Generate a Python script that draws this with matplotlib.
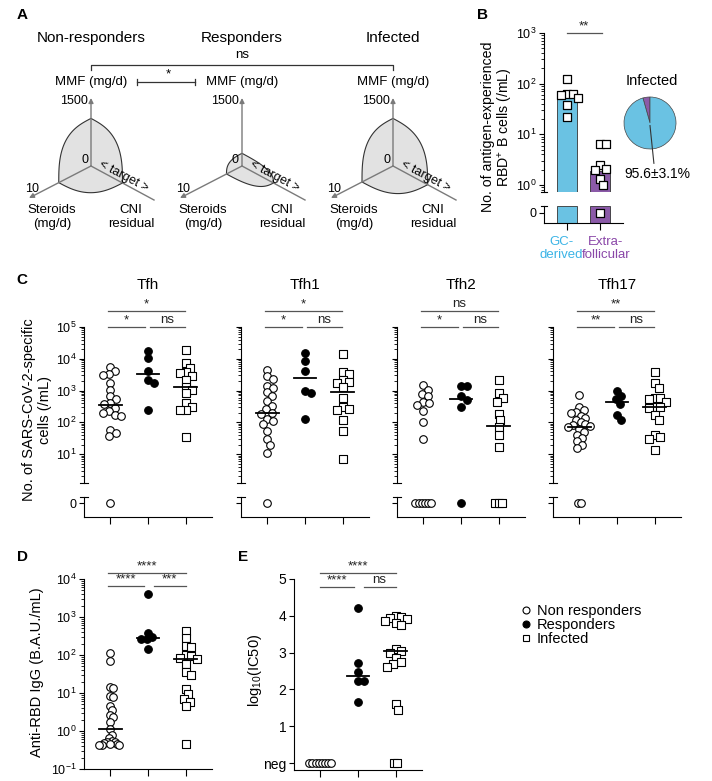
import numpy as np
import matplotlib
matplotlib.use('Agg')
import matplotlib.pyplot as plt
from matplotlib.ticker import LogLocator, NullFormatter, FixedLocator, FixedFormatter
from matplotlib.lines import Line2D

plt.rcParams['font.family'] = ['Liberation Sans', 'DejaVu Sans']
plt.rcParams['mathtext.fontset'] = 'custom'
plt.rcParams['mathtext.rm'] = 'Liberation Sans'
plt.rcParams['mathtext.it'] = 'Liberation Sans:italic'
plt.rcParams['mathtext.bf'] = 'Liberation Sans:bold'
plt.rcParams['mathtext.default'] = 'regular'
plt.rcParams['axes.linewidth'] = 0.8

# ---------------- data ----------------
group_names = ['Non-responders', 'Responders', 'Infected']
legend_names = ['Non responders', 'Responders', 'Infected']

# A: immunosuppression profile per group
mmf_dose = [1050, 280, 1050]      # mg/d (axis max 1500)
steroid_dose = [5.2, 2.5, 5.0]    # mg/d (axis max 10)
cni_level = [0.5, 0.5, 0.55]      # fraction of axis towards "target"

# B: antigen-experienced RBD+ B cells in infected (/mL), 0 = none detected
gc_cells = [122, 63, 62, 60, 51, 38, 22]
ef_cells = [6.5, 6.3, 2.5, 2.1, 2.0, 1.3, 1.0, 0]
bar_heights = [55, 1.85]
bar_names = ['GC-\nderived', 'Extra-\nfollicular']
pie_share = [4.4, 95.6]           # extrafollicular, GC-derived (%)
pie_label = '95.6±3.1%'

# C: SARS-CoV-2-specific Tfh subsets (/mL), 0 = below detection
tfh_nr = [5500, 4000, 3300, 3000, 1700, 1050, 650, 540, 400, 380, 280, 220, 200, 170, 160, 57, 47, 37, 0]
tfh_resp = [17000, 10500, 4250, 2100, 1700, 245]
tfh_inf = [19000, 7300, 5100, 3700, 3500, 2800, 2200, 1300, 1050, 830, 400, 310, 245, 240, 34]
tfh_med = [355, 3300, 1300]

tfh1_nr = [4500, 2800, 2300, 1400, 1200, 900, 650, 480, 330, 260, 200, 180, 130, 110, 90, 55, 30, 20, 11, 0]
tfh1_resp = [15000, 8700, 4000, 940, 830, 125]
tfh1_inf = [14000, 3800, 3300, 2200, 1800, 1700, 1300, 570, 310, 270, 245, 118, 55, 7]
tfh1_med = [200, 2450, 870]

tfh2_nr = [1500, 1050, 800, 650, 450, 400, 360, 220, 105, 29, 0, 0, 0, 0, 0, 0]
tfh2_resp = [1400, 1350, 650, 500, 295, 0]
tfh2_inf = [2200, 830, 580, 450, 180, 118, 72, 40, 17, 0, 0, 0]
tfh2_med = [None, 550, 76]

tfh17_nr = [730, 300, 250, 210, 190, 160, 140, 120, 100, 90, 80, 75, 70, 60, 50, 40, 32, 25, 20, 15, 0, 0]
tfh17_resp = [940, 650, 550, 380, 170, 118]
tfh17_inf = [3700, 1700, 1200, 600, 580, 560, 450, 310, 300, 280, 170, 118, 40, 35, 30, 13]
tfh17_med = [73, 450, 310]

c_titles = ['Tfh', 'Tfh1', 'Tfh2', 'Tfh17']
c_sig = [('*', '*', 'ns'), ('*', '*', 'ns'), ('ns', '*', 'ns'), ('**', '**', 'ns')]

# D: anti-RBD IgG (B.A.U./mL)
igg_nr = [110, 70, 14.5, 13.5, 8.5, 8, 4.5, 3.5, 2.6, 2.3, 1.7, 1.1, 0.8, 0.65,
          0.56, 0.52, 0.5, 0.48, 0.46, 0.45, 0.44, 0.43, 0.42]
igg_resp = [4000, 390, 300, 270, 270, 140]
igg_inf = [430, 280, 175, 165, 100, 94, 85, 80, 57, 35, 30, 13, 9.3, 7, 5.9, 4.6, 0.46]
igg_med = [1.12, 280, 80]

# E: neutralisation, log10(IC50), 0 = neg
ic50_nr = [0, 0, 0, 0, 0, 0, 0, 0]
ic50_resp = [4.21, 2.73, 2.48, 2.24, 2.24, 1.66]
ic50_inf = [4.0, 3.98, 3.95, 3.9, 3.85, 3.8, 3.75, 3.1, 3.05, 3.0, 2.85, 2.75, 2.7, 2.62, 1.6, 1.45, 0, 0]
ic50_med = [None, 2.36, 3.05]

# ---------------- layout helpers ----------------
W, H = 712, 781
fig = plt.figure(figsize=(W / 100, H / 100), dpi=100)

ax0 = fig.add_axes([0, 0, 1, 1])
ax0.set_xlim(0, W)
ax0.set_ylim(H, 0)
ax0.axis('off')


def px_axes(x0, y0, x1, y1):
    ax = fig.add_axes([x0 / W, 1 - y1 / H, (x1 - x0) / W, (y1 - y0) / H])
    ax.patch.set_alpha(0)
    ax.spines[['top', 'right']].set_visible(False)
    ax.tick_params(labelsize=9, length=3.5, width=0.8, pad=2)
    return ax, (x0, y0, x1, y1)


PPU = 38.0   # pixels per x unit
MS = 30
styles = [dict(marker='o', facecolor='white', edgecolor='black'),
          dict(marker='o', facecolor='black', edgecolor='black'),
          dict(marker='s', facecolor='white', edgecolor='black')]


def swarm(ypx, diam=6.0, step=1.5, ppu=PPU, cap=11.0):
    # simple beeswarm in pixel space, squeezed to at most +-cap pixels
    ypx = np.asarray(ypx, float)
    offs = np.zeros(len(ypx))
    placed = []
    for i in np.argsort(-ypx):
        k = 0
        while True:
            cand = ((k + 1) // 2) * step * (1 if k % 2 else -1)
            if all((cand - px) ** 2 + (ypx[i] - py) ** 2 >= diam ** 2 for px, py in placed):
                break
            k += 1
        placed.append((cand, ypx[i]))
        offs[i] = cand
    widest = np.abs(offs).max() if len(offs) else 0
    if widest > cap:
        offs = offs * cap / widest
    return offs / ppu


def draw_groups(ax, sets, medians, ppd, log=True, ax_zero=None, ppu=PPU):
    for k, vals in enumerate(sets):
        v = np.asarray(vals, float)
        nz = v > 0
        ypx = (np.log10(v[nz]) if log else v[nz]) * ppd
        ax.scatter(k + swarm(ypx, ppu=ppu), v[nz], s=MS, lw=0.8, zorder=3, clip_on=False, **styles[k])
        n0 = int((~nz).sum())
        if n0:
            tgt = ax if ax_zero is None else ax_zero
            xo = (np.arange(n0) - (n0 - 1) / 2) * 3.2 / ppu
            tgt.scatter(k + xo, np.zeros(n0), s=MS, lw=0.8, zorder=3, clip_on=False, **styles[k])
        if medians[k] is not None:
            ax.plot([k - 0.3, k + 0.3], [medians[k]] * 2, color='black', lw=1.3, zorder=4)


def bracket(ax, rect, xa, xb, ypx, label):
    x0, y0, x1, y1 = rect
    yf = (y1 - ypx) / (y1 - y0)
    tr = ax.get_xaxis_transform()
    ax.plot([xa, xb], [yf, yf], color='#555555', lw=0.9, transform=tr, clip_on=False)
    ax.text((xa + xb) / 2, yf + 1.0 / (y1 - y0), label, transform=tr, ha='center', va='bottom',
            fontsize=9.5, color='#222222')


def log_ticks(ax, labels=True):
    ax.set_yscale('log')
    ax.yaxis.set_major_locator(LogLocator(base=10, numticks=12))
    ax.yaxis.set_minor_locator(LogLocator(base=10, subs=np.arange(2, 10), numticks=12))
    ax.yaxis.set_minor_formatter(NullFormatter())
    if not labels:
        ax.yaxis.set_major_formatter(NullFormatter())
    ax.tick_params(axis='y', which='minor', length=2, width=0.6)


def break_marks(axu, axl):
    for ax, y in ((axu, 0), (axl, 1)):
        ax.plot([-0.035, 0.035], [y, y], color='black', lw=0.8, transform=ax.transAxes, clip_on=False)


# ---------------- panel A ----------------
origins_x = [91, 242, 393]
oy = 166
up = np.array([0.0, -68.0])
dn_left = np.array([-62.0, 32.0])
dn_right = np.array([63.0, 34.0])
t = np.linspace(0, np.pi / 2, 40)
cc, ss = np.cos(t) ** (2 / 3), np.sin(t) ** (2 / 3)
axis_col = '#7a7a7a'

for g in range(3):
    ox = origins_x[g]
    T = up * mmf_dose[g] / 1500
    L = dn_left * steroid_dose[g] / 10
    R = dn_right * cni_level[g]
    arc = lambda A, B: np.outer(cc, A) + np.outer(ss, B)
    pts = np.vstack([arc(T, L), arc(L, R)[1:], arc(R, T)[1:]]) + [ox, oy]
    ax0.fill(pts[:, 0], pts[:, 1], facecolor='#e2e2e2', edgecolor='#333333', lw=0.8, zorder=1)
    for d in (up, dn_left):
        ax0.annotate('', xy=(ox + d[0], oy + d[1]), xytext=(ox, oy),
                     arrowprops=dict(arrowstyle='-|>', color=axis_col, lw=1.0, mutation_scale=7,
                                     shrinkA=0, shrinkB=0), zorder=2)
    ax0.plot([ox, ox + dn_right[0]], [oy, oy + dn_right[1]], color=axis_col, lw=1.0, zorder=2)
    ax0.text(ox, 38, group_names[g], ha='center', va='center', fontsize=11)
    ax0.text(ox, 82, 'MMF (mg/d)', ha='center', va='center', fontsize=9.5)
    ax0.text(ox - 3, 101, '1500', ha='right', va='center', fontsize=9)
    ax0.text(ox - 3, 160, '0', ha='right', va='center', fontsize=9)
    ax0.text(ox - 59, 189, '10', ha='center', va='center', fontsize=9)
    ax0.text(ox + 33, 176, '< target >', ha='center', va='center', fontsize=9,
             rotation=-28, rotation_mode='anchor')
    ax0.text(ox - 39, 217, 'Steroids\n(mg/d)', ha='center', va='center', fontsize=9.5, linespacing=1.15)
    ax0.text(ox + 40, 217, 'CNI\nresidual', ha='center', va='center', fontsize=9.5, linespacing=1.15)

# significance across regimens
ax0.plot([origins_x[0], origins_x[0], origins_x[2], origins_x[2]], [70, 65, 65, 70], color='#333333', lw=0.9)
ax0.text((origins_x[0] + origins_x[2]) / 2, 55, 'ns', ha='center', va='center', fontsize=9.5)
ax0.plot([137, 195], [82, 82], color='#333333', lw=0.9)
ax0.plot([137, 137], [79, 85], color='#333333', lw=0.9)
ax0.plot([195, 195], [79, 85], color='#333333', lw=0.9)
ax0.text(168, 74, '*', ha='center', va='center', fontsize=9.5)

# panel letters
for letter, (x, y) in zip('ABCDE', [(22, 15), (483, 15), (22, 280), (22, 557), (243, 557)]):
    ax0.text(x, y, letter, ha='center', va='center', fontsize=11, fontweight='bold')

# ---------------- panel B ----------------
b_cyan, b_purple = '#6ac2e3', '#8b5aa8'
axbu, rbu = px_axes(544, 33, 623, 192)
axbl, rbl = px_axes(544, 206, 623, 223)
for ax in (axbu, axbl):
    ax.set_xlim(-0.7, 1.7)
log_ticks(axbu)
b_lo = 10 ** -0.14
axbu.set_ylim(b_lo, 1e3)
axbu.spines['bottom'].set_visible(False)
axbu.set_xticks([])
axbl.set_ylim(-0.59, 0.41)
axbl.set_yticks([0])
axbl.set_xticks([0, 1])
axbl.set_xticklabels([])
axbl.tick_params(axis='x', length=5)
for k, (name, col, shift) in enumerate(zip(bar_names, ['#3bb4e6', '#8a47a8'], [-0.18, 0.18])):
    axbl.text(k + shift, -0.75, name, transform=axbl.get_xaxis_transform(), ha='center', va='top',
              fontsize=9.5, color=col, linespacing=1.1)
axbu.bar([0, 1], [h - b_lo for h in bar_heights], bottom=b_lo, width=0.6,
         color=[b_cyan, b_purple], edgecolor='#333333', lw=0.6, zorder=1)
lo, hi = axbl.get_ylim()
axbl.bar([0, 1], [hi - lo] * 2, bottom=lo, width=0.6, color=[b_cyan, b_purple],
         edgecolor='#333333', lw=0.6, zorder=1)
sq = dict(marker='s', facecolor='white', edgecolor='black')
for k, vals in enumerate([gc_cells, ef_cells]):
    v = np.asarray(vals, float)
    nz = v > 0
    axbu.scatter(k + swarm(np.log10(v[nz]) * 50.7, ppu=33.0), v[nz], s=MS, lw=0.9, zorder=3, clip_on=False, **sq)
    n0 = int((~nz).sum())
    if n0:
        axbl.scatter(k + (np.arange(n0) - (n0 - 1) / 2) * 0.1, np.zeros(n0), s=MS, lw=0.9, zorder=3, **sq)
break_marks(axbu, axbl)
bracket(axbu, rbu, 0, 1.05, 33, '**')
ax0.text(498, 127, 'No. of antigen-experienced\nRBD$^{+}$ B cells (/mL)', rotation=90, ha='center',
         va='center', fontsize=10.2, linespacing=1.12)

# pie
axp = fig.add_axes([624 / W, 1 - 149 / H, 52 / W, 52 / H])
axp.pie(pie_share, colors=[b_purple, b_cyan], startangle=90, counterclock=True,
        wedgeprops=dict(edgecolor='#444444', lw=0.5))
axp.set_xlim(-1, 1)
axp.set_ylim(-1, 1)
axp.plot([0, 0.15], [-0.1, -1.55], color='#333333', lw=0.8, clip_on=False)
axp.text(0.27, -1.95, pie_label, ha='center', va='center', fontsize=10)
axp.text(0.08, 1.6, 'Infected', ha='center', va='center', fontsize=10.5)

# ---------------- panel C ----------------
c_sets = [(tfh_nr, tfh_resp, tfh_inf), (tfh1_nr, tfh1_resp, tfh1_inf),
          (tfh2_nr, tfh2_resp, tfh2_inf), (tfh17_nr, tfh17_resp, tfh17_inf)]
c_meds = [tfh_med, tfh1_med, tfh2_med, tfh17_med]
c_lefts = [84, 241, 397, 553]
for i in range(4):
    x0 = c_lefts[i]
    axu, ru = px_axes(x0, 327, x0 + 128, 483)
    axl, rl = px_axes(x0, 497, x0 + 128, 517)
    for ax in (axu, axl):
        ax.set_xlim(-0.7, 2.7)
    log_ticks(axu, labels=(i == 0))
    axu.set_ylim(10 ** 0.09, 1e5)
    axu.spines['bottom'].set_visible(False)
    axu.set_xticks([])
    axl.set_ylim(-0.7, 0.3)
    axl.set_yticks([0])
    if i > 0:
        axl.set_yticklabels([])
    axl.set_xticks([0, 1, 2])
    axl.set_xticklabels([])
    axl.tick_params(axis='x', length=5)
    draw_groups(axu, c_sets[i], c_meds[i], 31.75, ax_zero=axl)
    break_marks(axu, axl)
    top_lab, left_lab, right_lab = c_sig[i]
    bracket(axu, ru, -0.05, 1.97, 311, top_lab)
    bracket(axu, ru, -0.05, 0.92, 327, left_lab)
    bracket(axu, ru, 1.05, 1.97, 327, right_lab)
    ax0.text(x0 + 64, 285, c_titles[i], ha='center', va='center', fontsize=11)

ax0.text(37, 410, 'No. of SARS-CoV-2-specific\ncells (/mL)', rotation=90, ha='center',
         va='center', fontsize=10.5, linespacing=1.15)

# ---------------- panel D ----------------
axd, rd = px_axes(84, 579, 212, 769)
axd.set_xlim(-0.7, 2.7)
log_ticks(axd)
axd.set_ylim(0.1, 1e4)
axd.set_xticks([0, 1, 2])
axd.set_xticklabels([])
axd.tick_params(axis='x', length=5)
draw_groups(axd, [igg_nr, igg_resp, igg_inf], igg_med, 38.0)
bracket(axd, rd, -0.05, 2.0, 573, '****')
bracket(axd, rd, -0.05, 0.9, 586, '****')
bracket(axd, rd, 1.15, 2.0, 586, '***')
ax0.text(37, 672, 'Anti-RBD IgG (B.A.U./mL)', rotation=90, ha='center', va='center', fontsize=10.5)

# ---------------- panel E ----------------
axe, re_ = px_axes(294, 579, 422, 770)
axe.set_xlim(-0.7, 2.7)
axe.set_ylim(-0.19, 5)
axe.yaxis.set_major_locator(FixedLocator([0, 1, 2, 3, 4, 5]))
axe.yaxis.set_major_formatter(FixedFormatter(['neg', '1', '2', '3', '4', '5']))
axe.tick_params(axis='y', labelsize=10)
axe.set_xticks([0, 1, 2])
axe.set_xticklabels([])
axe.tick_params(axis='x', length=5)
draw_groups(axe, [ic50_nr, ic50_resp, ic50_inf], ic50_med, 36.8, log=False)
bracket(axe, re_, 0.0, 2.0, 573, '****')
bracket(axe, re_, 0.0, 0.9, 587, '****')
bracket(axe, re_, 1.15, 2.0, 587, 'ns')
ax0.text(255, 670, 'log$_{10}$(IC50)', rotation=90, ha='center', va='center', fontsize=10.5)

# legend
handles = [Line2D([], [], linestyle='none', marker=s['marker'], markerfacecolor=s['facecolor'],
                  markeredgecolor=s['edgecolor'], markersize=5, markeredgewidth=0.8) for s in styles]
fig.legend(handles, legend_names, loc='upper left', bbox_to_anchor=(521 / W, 1 - 604 / H),
           frameon=False, fontsize=10.5, handlelength=0.7, handletextpad=0.4,
           labelspacing=0.0, borderpad=0, borderaxespad=0)

fig.savefig('out.png', dpi=100)
